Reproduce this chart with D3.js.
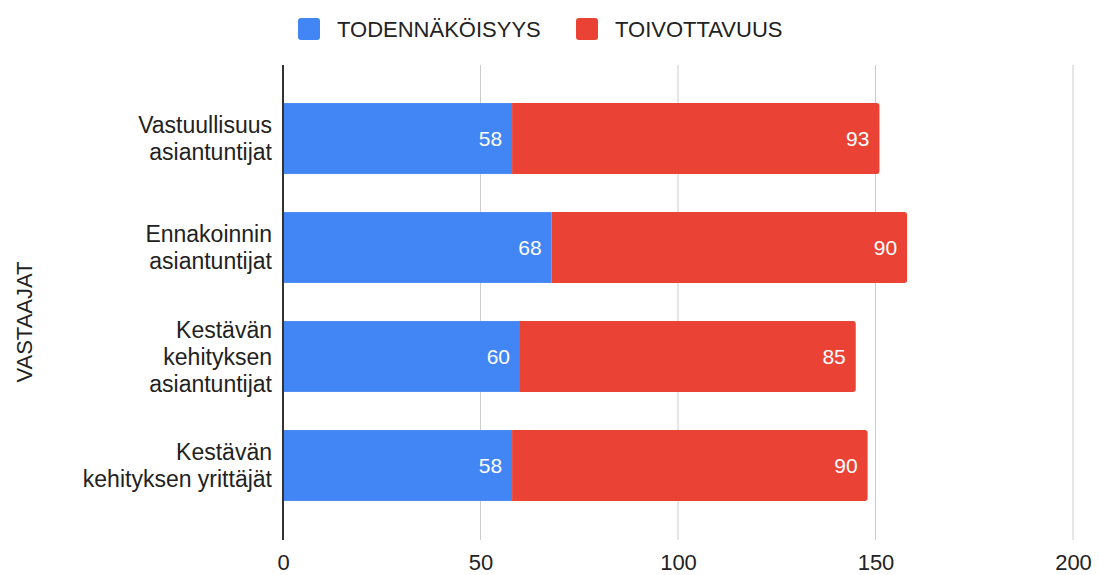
<!DOCTYPE html>
<html>
<head>
<meta charset="utf-8">
<script src="https://cdn.jsdelivr.net/npm/d3@7"></script>
<style>
  html, body { margin: 0; padding: 0; background: #fff; }
  svg { display: block; font-family: "Liberation Sans", Arial, sans-serif; }
</style>
</head>
<body>
<svg id="chart" width="1099" height="575"></svg>
<script>
const categories = [
  ["Vastuullisuus", "asiantuntijat"],
  ["Ennakoinnin", "asiantuntijat"],
  ["Kestävän", "kehityksen", "asiantuntijat"],
  ["Kestävän", "kehityksen yrittäjät"]
];
const seriesNames = ["TODENNÄKÖISYYS", "TOIVOTTAVUUS"];
const todennakoisyys = [58, 68, 60, 58];
const toivottavuus = [93, 90, 85, 90];
const xTicks = [0, 50, 100, 150, 200];
const colors = ["#4285F4", "#EA4335"];
const axisTitle = "VASTAAJAT";

const svg = d3.select("#chart");
const keys = categories.map((c, i) => i);

const x = d3.scaleLinear().domain([0, 200]).range([283, 1073]);
const y = d3.scaleBand().domain(keys).range([84, 520]).paddingInner(0.35).paddingOuter(0.175);

const plotTop = 65, plotBottom = 540;

// gridlines
svg.append("g").selectAll("line").data(xTicks.filter(t => t !== 0)).join("line")
  .attr("x1", d => x(d)).attr("x2", d => x(d))
  .attr("y1", plotTop).attr("y2", plotBottom)
  .attr("stroke", "#cccccc").attr("stroke-width", 1);

// x tick labels
const xAxis = d3.axisBottom(x).tickValues(xTicks).tickSize(0).tickPadding(0);
const gx = svg.append("g").attr("transform", `translate(0, ${plotBottom + 14})`).call(xAxis);
gx.select(".domain").remove();
gx.selectAll("text").attr("font-size", 22).attr("fill", "#222").attr("dy", "0.71em")
  .attr("font-family", "Liberation Sans, Arial, sans-serif");

// stacked data
const rows = keys.map(i => ({ i, a: todennakoisyys[i], b: toivottavuus[i] }));

// blue bars
svg.append("g").selectAll("rect").data(rows).join("rect")
  .attr("x", x(0))
  .attr("y", d => y(d.i))
  .attr("width", d => x(d.a) - x(0))
  .attr("height", y.bandwidth())
  .attr("fill", colors[0]);

// red bars with rounded right end
const r = 3;
svg.append("g").selectAll("path").data(rows).join("path")
  .attr("d", d => {
    const x0 = x(d.a), x1 = x(d.a + d.b), y0 = y(d.i), y1 = y0 + y.bandwidth();
    return `M${x0},${y0} H${x1 - r} Q${x1},${y0} ${x1},${y0 + r} V${y1 - r} Q${x1},${y1} ${x1 - r},${y1} H${x0} Z`;
  })
  .attr("fill", colors[1]);

// value labels
const lbl = svg.append("g").attr("font-size", 21).attr("fill", "#ffffff").attr("text-anchor", "end");
lbl.selectAll("text.a").data(rows).join("text").attr("class", "a")
  .attr("x", d => x(d.a) - 10)
  .attr("y", d => y(d.i) + y.bandwidth() / 2)
  .attr("dy", "0.36em")
  .text(d => d.a);
lbl.selectAll("text.b").data(rows).join("text").attr("class", "b")
  .attr("x", d => x(d.a + d.b) - 10)
  .attr("y", d => y(d.i) + y.bandwidth() / 2)
  .attr("dy", "0.36em")
  .text(d => d.b);

// zero axis line
svg.append("line")
  .attr("x1", x(0)).attr("x2", x(0))
  .attr("y1", plotTop).attr("y2", plotBottom)
  .attr("stroke", "#333333").attr("stroke-width", 2);

// category labels
const lineH = 27;
const cat = svg.append("g").attr("font-size", 23).attr("fill", "#222").attr("text-anchor", "end");
rows.forEach(d => {
  const lines = categories[d.i];
  const cy = y(d.i) + y.bandwidth() / 2;
  const t = cat.append("text").attr("x", 272);
  lines.forEach((ln, k) => {
    t.append("tspan").attr("x", 272)
      .attr("y", cy + (k - (lines.length - 1) / 2) * lineH)
      .attr("dy", "0.36em")
      .text(ln);
  });
});

// axis title
svg.append("text")
  .attr("transform", `translate(32, 322) rotate(-90)`)
  .attr("text-anchor", "middle")
  .attr("font-size", 22).attr("fill", "#222")
  .text(axisTitle);

// legend
const legendItems = [
  { name: seriesNames[0], color: colors[0], x: 298 },
  { name: seriesNames[1], color: colors[1], x: 576 }
];
const lg = svg.append("g");
legendItems.forEach(it => {
  lg.append("rect").attr("x", it.x).attr("y", 18).attr("width", 22).attr("height", 22)
    .attr("rx", 3).attr("fill", it.color);
  lg.append("text").attr("x", it.x + 39).attr("y", 29).attr("dy", "0.36em")
    .attr("font-size", 22).attr("fill", "#222").text(it.name);
});
</script>
</body>
</html>
